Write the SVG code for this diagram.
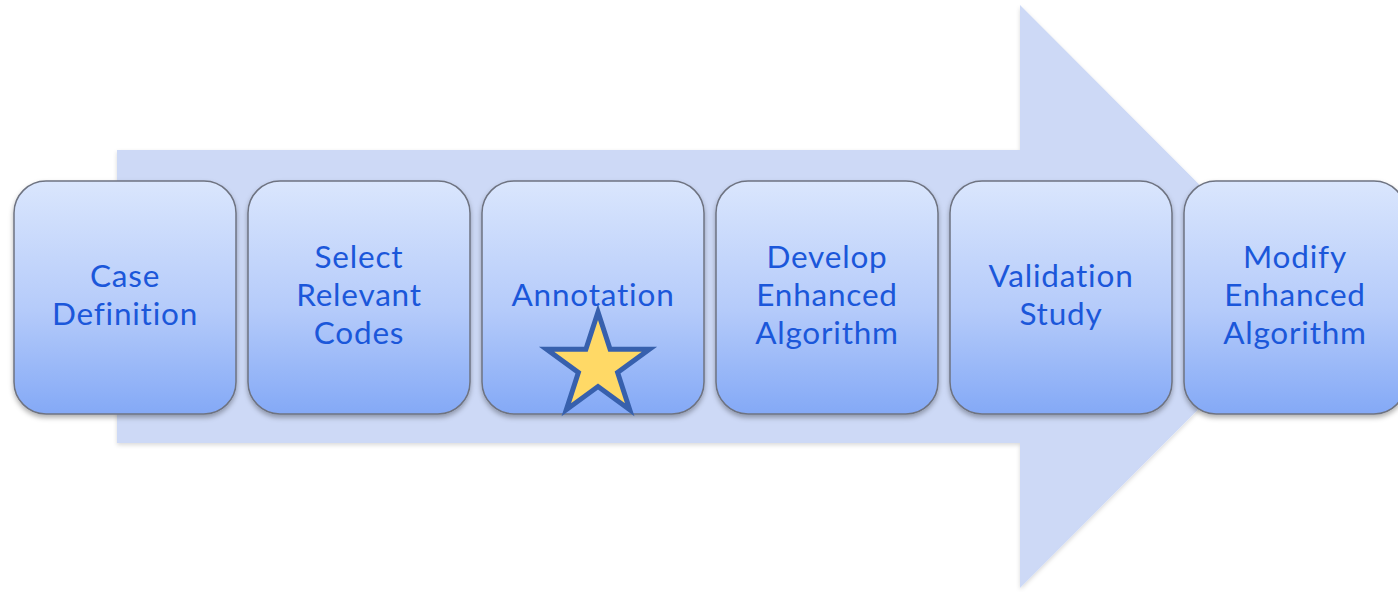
<svg xmlns="http://www.w3.org/2000/svg" width="1398" height="592" viewBox="0 0 1398 592">
<defs>
<linearGradient id="boxg" x1="0" y1="0" x2="0" y2="1">
<stop offset="0" stop-color="#DAE6FD"/>
<stop offset="0.55" stop-color="#B5CBFA"/>
<stop offset="1" stop-color="#84A9F6"/>
</linearGradient>
<filter id="sh" x="-10%" y="-10%" width="120%" height="125%">
<feDropShadow dx="0" dy="3" stdDeviation="2.5" flood-color="#000" flood-opacity="0.3"/>
</filter>
<filter id="ash" x="-5%" y="-5%" width="110%" height="110%">
<feDropShadow dx="0" dy="2" stdDeviation="2" flood-color="#000" flood-opacity="0.15"/>
</filter>
</defs>
<style>
.box{fill:url(#boxg);stroke:#6E7381;stroke-width:1.5;filter:url(#sh)}
.lbl{font-family:Lato,"Noto Sans",sans-serif;font-size:31.5px;fill:#1B57DA;text-anchor:middle;font-variant-ligatures:none;letter-spacing:0.8px}
</style>
<rect width="1398" height="592" fill="#FFFFFF"/>
<g id="arrow">
<polygon points="117,150 1020,150 1020,5 1311,296.5 1020,588 1020,443 117,443" fill="#CDD9F6" filter="url(#ash)"/>
</g>
<g id="connectors"></g>
<g id="n1">
<rect class="box" x="14" y="181" width="222" height="233" rx="32"/>
<text class="lbl" x="125" y="287">Case</text>
<text class="lbl" x="125" y="325">Definition</text>
</g>
<g id="n2">
<rect class="box" x="248" y="181" width="222" height="233" rx="32"/>
<text class="lbl" x="359" y="268">Select</text>
<text class="lbl" x="359" y="306">Relevant</text>
<text class="lbl" x="359" y="344">Codes</text>
</g>
<g id="n3">
<rect class="box" x="482" y="181" width="222" height="233" rx="32"/>
<text class="lbl" x="593" y="306">Annotation</text>
<polygon points="598,312 610.1,349.3 649.4,349.3 617.6,372.4 629.7,409.7 598,386.6 566.3,409.7 578.4,372.4 546.6,349.3 585.9,349.3" fill="#FFD966" stroke="#3760AD" stroke-width="5" stroke-linejoin="miter"/>
</g>
<g id="n4">
<rect class="box" x="716" y="181" width="222" height="233" rx="32"/>
<text class="lbl" x="827" y="268">Develop</text>
<text class="lbl" x="827" y="306">Enhanced</text>
<text class="lbl" x="827" y="344">Algorithm</text>
</g>
<g id="n5">
<rect class="box" x="950" y="181" width="222" height="233" rx="32"/>
<text class="lbl" x="1061" y="287">Validation</text>
<text class="lbl" x="1061" y="325">Study</text>
</g>
<g id="n6">
<rect class="box" x="1184" y="181" width="222" height="233" rx="32"/>
<text class="lbl" x="1295" y="268">Modify</text>
<text class="lbl" x="1295" y="306">Enhanced</text>
<text class="lbl" x="1295" y="344">Algorithm</text>
</g>
</svg>
